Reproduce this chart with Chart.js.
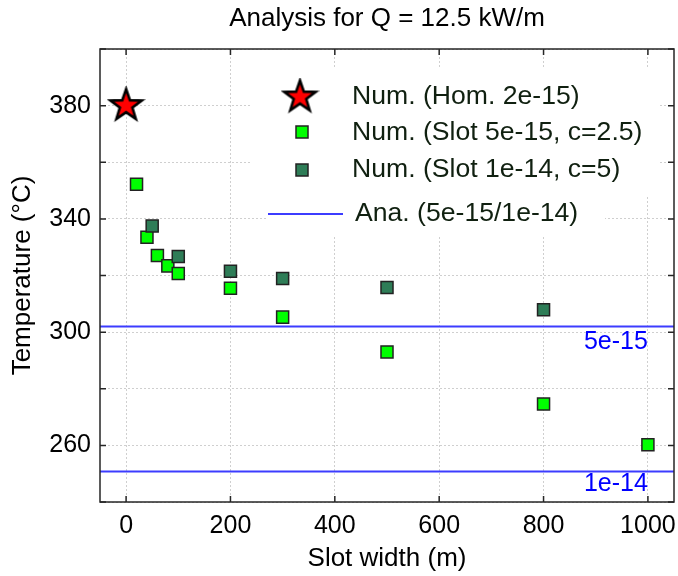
<!DOCTYPE html>
<html><head><meta charset="utf-8">
<script src="https://cdn.jsdelivr.net/npm/chart.js@4/dist/chart.umd.min.js"></script>
<style>html,body{margin:0;padding:0;background:#fff;}</style>
</head><body>
<canvas id="c" width="678" height="576" style="display:block;width:678px;height:576px"></canvas>
<script>
// ---------- data ----------
const titleText = 'Analysis for Q = 12.5 kW/m';
const xAxisTitle = 'Slot width (m)';
const yAxisTitle = 'Temperature (°C)';
const seriesNames = ['Num. (Hom. 2e-15)', 'Num. (Slot 5e-15, c=2.5)', 'Num. (Slot 1e-14, c=5)', 'Ana. (5e-15/1e-14)'];
const homX = [0];
const homY = [380];
const slot5X = [20, 40, 60, 80, 100, 200, 300, 500, 800, 1000];
const slot5Y = [352.2, 333.5, 327.1, 323.4, 320.7, 315.5, 305.3, 293.0, 274.6, 260.2];
const slot1X = [50, 100, 200, 300, 500, 800];
const slot1Y = [337.5, 326.7, 321.5, 318.9, 315.8, 307.9];
const anaLevels = [302.0, 250.8];
const anaLabels = ['5e-15', '1e-14'];
const xRange = [-50, 1050];
const yRange = [240, 400];
const xStep = 200;
const yStep = 20;
const yLabelled = [260, 300, 340, 380];

// ---------- helpers ----------
const FONT = '"Liberation Sans", Arial, sans-serif';
const pts = (xs, ys) => xs.map((v, i) => ({x: v, y: ys[i]}));

function makeStar(R, ratio) {
  const s = Math.ceil(2 * R + 6);
  const c = document.createElement('canvas');
  c.width = s; c.height = s;
  const g = c.getContext('2d');
  const cx = s / 2, cy = s / 2;
  g.beginPath();
  for (let i = 0; i < 10; i++) {
    const r = i % 2 === 0 ? R : R * ratio;
    const a = -Math.PI / 2 + i * Math.PI / 5;
    g.lineTo(cx + r * Math.cos(a), cy + r * Math.sin(a));
  }
  g.closePath();
  g.fillStyle = '#ff0000'; g.fill();
  g.lineWidth = 2.6; g.strokeStyle = '#000'; g.lineJoin = 'miter'; g.stroke();
  return c;
}
const starImg = makeStar(16.5, 0.4);

const LIGHT = '#00ff00', DARK = '#2e7d57', EDGE = '#222', BLUE = '#3c3cff';

const deco = {
  id: 'deco',
  beforeDatasetsDraw(chart) {
    const ctx = chart.ctx;
    ctx.save();
    ctx.fillStyle = '#fff';
    ctx.fillRect(250, 69, 408, 128);
    ctx.fillRect(266, 197, 339, 38);
    ctx.restore();
  },
  afterDatasetsDraw(chart) {
    const {ctx, chartArea: a, scales: {x, y}} = chart;
    ctx.save();
    // labels of analytic lines
    ctx.font = '25px ' + FONT;
    ctx.fillStyle = '#0000ff';
    ctx.textAlign = 'right';
    ctx.textBaseline = 'middle';
    const offs = [16, 12.5];
    anaLabels.forEach((t, i) => ctx.fillText(t, x.getPixelForValue(1000), y.getPixelForValue(anaLevels[i]) + offs[i]));
    // frame
    ctx.strokeStyle = '#262626';
    ctx.lineWidth = 1.5;
    ctx.strokeRect(a.left, a.top, a.right - a.left, a.bottom - a.top);
    // inward ticks
    ctx.beginPath();
    x.ticks.forEach(t => {
      const p = x.getPixelForValue(t.value);
      ctx.moveTo(p, a.bottom); ctx.lineTo(p, a.bottom - 6);
      ctx.moveTo(p, a.top); ctx.lineTo(p, a.top + 6);
    });
    y.ticks.forEach(t => {
      const p = y.getPixelForValue(t.value);
      ctx.moveTo(a.left, p); ctx.lineTo(a.left + 6, p);
      ctx.moveTo(a.right, p); ctx.lineTo(a.right - 6, p);
    });
    ctx.stroke();
    // legend
    ctx.drawImage(starImg, 300 - starImg.width / 2, 97 - starImg.height / 2);
    const sq = (cx, cy, col) => {
      ctx.fillStyle = col; ctx.strokeStyle = EDGE; ctx.lineWidth = 1.5;
      ctx.fillRect(cx - 6, cy - 6, 12, 12); ctx.strokeRect(cx - 6, cy - 6, 12, 12);
    };
    sq(302, 132, LIGHT);
    sq(302, 170, DARK);
    ctx.strokeStyle = BLUE; ctx.lineWidth = 2;
    ctx.beginPath(); ctx.moveTo(268, 214); ctx.lineTo(343, 214); ctx.stroke();
    ctx.font = '26.6px ' + FONT;
    ctx.fillStyle = '#102010';
    ctx.textAlign = 'left';
    ctx.textBaseline = 'middle';
    ctx.fillText(seriesNames[0], 352, 97);
    ctx.fillText(seriesNames[1], 352, 132.5);
    ctx.fillText(seriesNames[2], 352, 169.5);
    ctx.fillText(seriesNames[3], 355, 214);
    ctx.restore();
  }
};

new Chart(document.getElementById('c'), {
  type: 'scatter',
  data: {
    datasets: [
      {label: seriesNames[0], data: pts(homX, homY), pointStyle: starImg, pointRadius: 17, order: 0},
      {label: seriesNames[2], data: pts(slot1X, slot1Y), pointStyle: 'rect', pointRadius: 8.5,
       backgroundColor: DARK, borderColor: EDGE, borderWidth: 1.5, order: 1},
      {label: seriesNames[1], data: pts(slot5X, slot5Y), pointStyle: 'rect', pointRadius: 8.5,
       backgroundColor: LIGHT, borderColor: EDGE, borderWidth: 1.5, order: 2},
      {type: 'line', label: seriesNames[3], data: [{x: xRange[0], y: anaLevels[0]}, {x: xRange[1], y: anaLevels[0]}],
       borderColor: BLUE, borderWidth: 2, pointRadius: 0, order: 3},
      {type: 'line', label: seriesNames[3] + ' b', data: [{x: xRange[0], y: anaLevels[1]}, {x: xRange[1], y: anaLevels[1]}],
       borderColor: BLUE, borderWidth: 2, pointRadius: 0, order: 3}
    ]
  },
  options: {
    responsive: false,
    animation: false,
    devicePixelRatio: 1,
    layout: {autoPadding: false, padding: {left: 0, right: 4, top: 0, bottom: 0}},
    plugins: {
      legend: {display: false},
      tooltip: {enabled: false},
      title: {display: true, text: titleText, fullSize: false, color: '#000',
              font: {family: FONT, size: 26, weight: 'normal'}, padding: {top: 3, bottom: 14.8}}
    },
    scales: {
      x: {
        type: 'linear', min: xRange[0], max: xRange[1],
        ticks: {stepSize: xStep, includeBounds: false, color: '#000', font: {family: FONT, size: 25, lineHeight: '48px'},
                padding: 0, maxRotation: 0, autoSkip: false, callback: v => String(v)},
        grid: {color: '#cfcfcf', lineWidth: 1, drawTicks: false},
        border: {display: false, dash: [2, 2]},
        title: {display: true, text: xAxisTitle, color: '#000', font: {family: FONT, size: 26}, padding: {top: 0, bottom: 2}},
        afterFit(s) { s.height = 74; s.paddingLeft = 0; s.paddingRight = 0; }
      },
      y: {
        type: 'linear', min: yRange[0], max: yRange[1],
        ticks: {stepSize: yStep, includeBounds: false, color: '#000', font: {family: FONT, size: 25}, padding: 9,
                autoSkip: false, callback: v => yLabelled.includes(v) ? String(v) : ''},
        grid: {color: '#cfcfcf', lineWidth: 1, drawTicks: false},
        border: {display: false, dash: [2, 2]},
        title: {display: true, text: yAxisTitle, color: '#000', font: {family: FONT, size: 26}, padding: {top: 7, bottom: 0}},
        afterFit(s) { s.width = 100; s.paddingTop = 0; s.paddingBottom = 0; }
      }
    }
  },
  plugins: [deco]
});
</script>
</body></html>
